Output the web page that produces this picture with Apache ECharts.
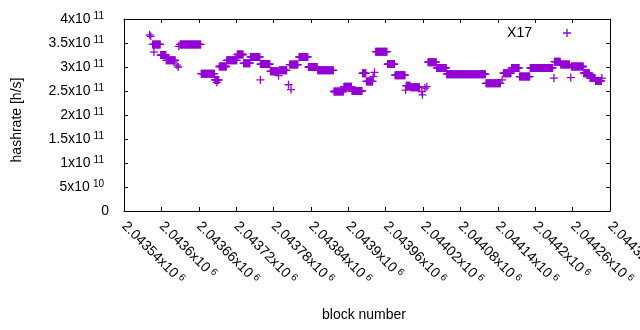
<!DOCTYPE html>
<html><head><meta charset="utf-8">
<script src="https://cdn.jsdelivr.net/npm/echarts@6/dist/echarts.min.js"></script>
<style>html,body{margin:0;padding:0;background:#fff}#c{width:640px;height:330px}</style>
</head><body><div id="c"></div>
<script>
const seriesName = 'X17';
// runs of consecutive blocks sharing the same hashrate
const runStart = [2043581,2043583,2043586,2043588,2043599,2043608,2043625,2043627,2043628,2043630,2043664,2043686,2043689,2043693,2043705,2043722,2043732,2043743,2043759,2043759,2043775,2043788,2043789,2043804,2043808,2043806,2043821,2043836,2043851,2043877,2043893,2043906,2043923,2043929,2043940,2043942,2043944,2043963,2043975,2043992,2043993,2044000,2044018,2044019,2044023,2044026,2044028,2044042,2044058,2044121,2044147,2044149,2044162,2044175,2044192,2044230,2044231,2044241,2044257,2044258,2044278,2044288,2044297,2044307];
const runEnd   = [2043581,2043583,2043598,2043588,2043607,2043622,2043625,2043627,2043628,2043663,2043685,2043692,2043689,2043704,2043721,2043731,2043742,2043758,2043759,2043774,2043787,2043788,2043801,2043804,2043808,2043819,2043835,2043850,2043876,2043892,2043905,2043922,2043928,2043939,2043940,2043942,2043962,2043974,2043991,2043992,2043999,2044014,2044018,2044019,2044023,2044026,2044041,2044057,2044120,2044144,2044147,2044161,2044174,2044191,2044228,2044230,2044240,2044255,2044257,2044277,2044287,2044296,2044306,2044307];
const runValue = [3.67e11,3.64e11,3.47e11,3.31e11,3.25e11,3.14e11,3.04e11,3.00e11,3.43e11,3.47e11,2.86e11,2.73e11,2.68e11,3.01e11,3.14e11,3.26e11,3.08e11,3.21e11,2.73e11,3.06e11,2.91e11,2.82e11,2.93e11,2.63e11,2.53e11,3.05e11,3.21e11,3.00e11,2.93e11,2.49e11,2.59e11,2.50e11,2.87e11,2.70e11,2.80e11,2.89e11,3.32e11,3.06e11,2.83e11,2.52e11,2.61e11,2.58e11,2.49e11,2.42e11,2.56e11,2.59e11,3.10e11,2.98e11,2.85e11,2.66e11,2.73e11,2.87e11,2.98e11,2.80e11,2.98e11,2.77e11,3.11e11,3.05e11,2.78e11,3.01e11,2.87e11,2.77e11,2.71e11,2.77e11];

const xTickMantissa = ['2.04354','2.0436','2.04366','2.04372','2.04378','2.04384','2.0439','2.04396','2.04402','2.04408','2.04414','2.0442','2.04426','2.04432'];
const xTickExp = '6';
const yTickMantissa = ['0','5x10','1x10','1.5x10','2x10','2.5x10','3x10','3.5x10','4x10'];
const yTickExp = ['','10','11','11','11','11','11','11','11'];

const xMin = 2043540, xMax = 2044320, xStep = 60;
const yMin = 0, yMax = 4e11, yStep = 5e10;

const points = [];
for (let i = 0; i < runStart.length; i++) {
  for (let b = runStart[i]; b <= runEnd[i]; b++) points.push([b, runValue[i]]);
}

const FONT = '"Liberation Sans", Arial, sans-serif';
const COLOR = '#9400d3';
const PLUS = 'path://M3.35,0H4.65V3.35H8V4.65H4.65V8H3.35V4.65H0V3.35H3.35Z';

const chart = echarts.init(document.getElementById('c'), null, {renderer: 'canvas'});
const axisLineStyle = {color: '#000', width: 1};
const tickStyle = {show: true, inside: true, length: 4, lineStyle: {color: '#000', width: 1}};

const option = {
  animation: false,
  backgroundColor: '#fff',
  textStyle: {fontFamily: FONT},
  grid: {left: 124, right: 30, top: 19, bottom: 119, containLabel: false, outerBoundsMode: 'none'},
  legend: {
    data: [seriesName], right: 69, top: 26, padding: 0, align: 'right',
    icon: PLUS, itemWidth: 8, itemHeight: 8,
    textStyle: {fontFamily: FONT, fontSize: 14, color: '#000', padding: [0, 26, 0, 0]}
  },
  xAxis: [{
    type: 'value', position: 'bottom', min: xMin, max: xMax, interval: xStep,
    axisLine: {show: true, lineStyle: axisLineStyle, onZero: false},
    axisTick: tickStyle, splitLine: {show: false},
    axisLabel: {
      rotate: -45, margin: 13, showMinLabel: true, showMaxLabel: true, hideOverlap: false,
      formatter: function (v) {
        const i = Math.round((v - xMin) / xStep);
        return '{m|' + xTickMantissa[i] + 'x10}{e|' + xTickExp + '}';
      },
      rich: {
        m: {fontFamily: FONT, fontSize: 14, color: '#000', lineHeight: 16},
        e: {fontFamily: FONT, fontSize: 10, color: '#000', lineHeight: 12, verticalAlign: 'top', padding: [0, 0, 0, 3]}
      }
    }
  }, {
    type: 'value', position: 'top', min: xMin, max: xMax, interval: xStep,
    axisLine: {show: true, lineStyle: axisLineStyle, onZero: false},
    axisTick: tickStyle, axisLabel: {show: false}, splitLine: {show: false}
  }],
  yAxis: [{
    type: 'value', position: 'left', min: yMin, max: yMax, interval: yStep,
    axisLine: {show: true, lineStyle: axisLineStyle, onZero: false},
    axisTick: tickStyle, splitLine: {show: false},
    axisLabel: {
      margin: 15, showMinLabel: true, showMaxLabel: true,
      formatter: function (v) {
        const i = Math.round((v - yMin) / yStep);
        if (!yTickExp[i]) return '{m|' + yTickMantissa[i] + '}';
        return '{m|' + yTickMantissa[i] + '}{e|' + yTickExp[i] + '}';
      },
      rich: {
        m: {fontFamily: FONT, fontSize: 14, color: '#000', lineHeight: 16},
        e: {fontFamily: FONT, fontSize: 10, color: '#000', lineHeight: 12, verticalAlign: 'top', padding: [0, 5, 0, 3]}
      }
    }
  }, {
    type: 'value', position: 'right', min: yMin, max: yMax, interval: yStep,
    axisLine: {show: true, lineStyle: axisLineStyle, onZero: false},
    axisTick: tickStyle, axisLabel: {show: false}, splitLine: {show: false}
  }],
  graphic: [
    {type: 'text', x: 17, y: 120, rotation: Math.PI / 2,
     style: {text: 'hashrate [h/s]', font: '14px ' + FONT, fill: '#000', align: 'center', verticalAlign: 'middle'}},
    {type: 'text', x: 364, y: 315,
     style: {text: 'block number', font: '14px ' + FONT, fill: '#000', align: 'center', verticalAlign: 'middle'}}
  ],
  series: [{
    name: seriesName, type: 'scatter', xAxisIndex: 0, yAxisIndex: 0,
    symbol: PLUS, symbolSize: 8, data: points,
    itemStyle: {color: COLOR, opacity: 1}
  }]
};
chart.setOption(option);
</script>
</body></html>
